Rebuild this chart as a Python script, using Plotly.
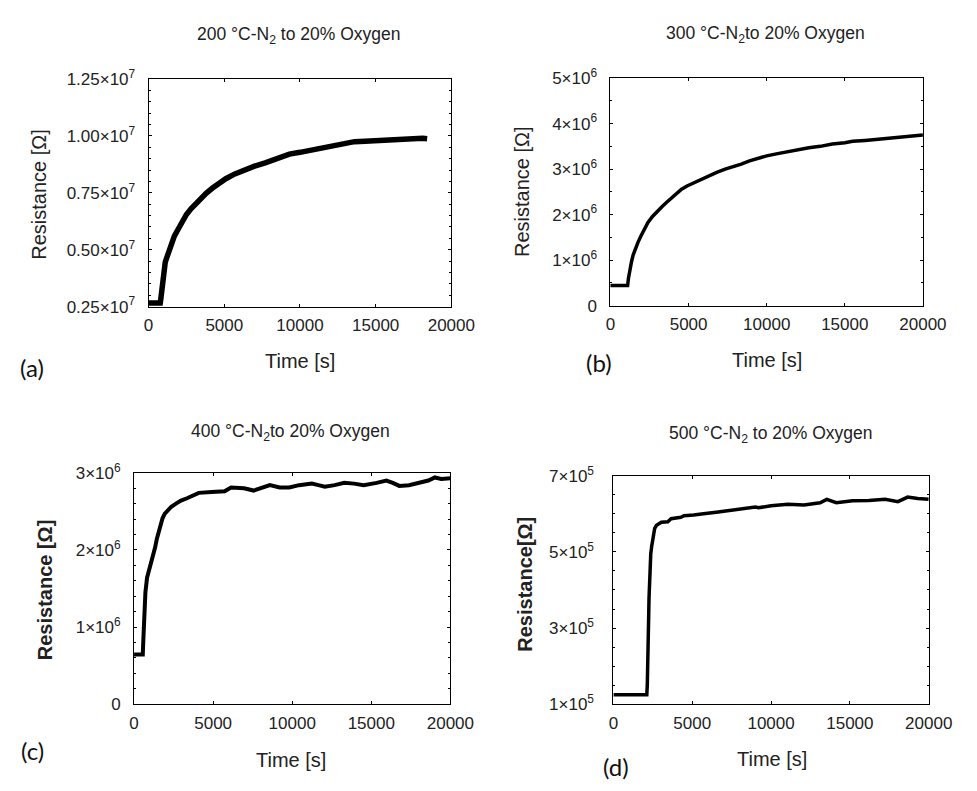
import plotly.graph_objects as go

W, H = 977, 791

# ---- data ----
time_a = [0, 770, 800, 850, 900, 950, 1000, 1100, 1200, 1350, 1500, 1700, 1950, 2200, 2500,
          2800, 3100, 3450, 3800, 4200, 4600, 5100, 5700, 6300, 7000, 7700, 8400, 9300, 10000,
          10700, 11500, 12300, 13000, 13600, 14300, 15000, 15700, 16400, 17100, 17700, 18100,
          18400]
res_a = [0.266e7, 0.266e7, 0.28e7, 0.31e7, 0.345e7, 0.385e7, 0.415e7, 0.445e7, 0.465e7,
         0.50e7, 0.53e7, 0.56e7, 0.59e7, 0.625e7, 0.655e7, 0.68e7, 0.703e7, 0.725e7, 0.748e7,
         0.77e7, 0.79e7, 0.812e7, 0.833e7, 0.85e7, 0.867e7, 0.882e7, 0.897e7, 0.92e7, 0.928e7,
         0.938e7, 0.948e7, 0.958e7, 0.966e7, 0.975e7, 0.977e7, 0.98e7, 0.984e7, 0.988e7,
         0.991e7, 0.993e7, 0.99e7, 0.988e7]

time_b = [-150, 1097, 1150, 1200, 1240, 1350, 1450, 1600, 1760, 1950, 2170, 2400, 2690, 3000,
          3310, 3600, 3930, 4250, 4550, 4900, 5270, 5750, 6300, 6800, 7340, 7850, 8370, 8900,
          9400, 10000, 10700, 11370, 12000, 12700, 13430, 14200, 15000, 15500, 16300, 17000,
          17570, 18300, 19000, 19500, 20000]
res_b = [0.443e6, 0.443e6, 0.60e6, 0.72e6, 0.82e6, 0.97e6, 1.11e6, 1.26e6, 1.39e6, 1.53e6,
         1.68e6, 1.83e6, 1.96e6, 2.08e6, 2.18e6, 2.27e6, 2.37e6, 2.47e6, 2.56e6, 2.63e6,
         2.69e6, 2.78e6, 2.86e6, 2.93e6, 3.0e6, 3.05e6, 3.11e6, 3.18e6, 3.23e6, 3.29e6,
         3.34e6, 3.39e6, 3.43e6, 3.47e6, 3.5e6, 3.55e6, 3.58e6, 3.61e6, 3.63e6, 3.65e6,
         3.67e6, 3.70e6, 3.72e6, 3.73e6, 3.75e6]

time_c = [0, 552, 590, 613, 660, 718, 822, 900, 1024, 1130, 1227, 1330, 1436, 1540, 1638, 1800,
          1945, 2150, 2356, 2650, 2969, 3350, 3785, 4090, 4908, 5726, 6135, 6544, 6953, 7566,
          8180, 8589, 9202, 9816, 10429, 11247, 11656, 12065, 12679, 13292, 13906, 14519,
          15337, 15951, 16360, 16769, 17382, 17996, 18609, 19018, 19427, 20000]
res_c = [0.644e6, 0.644e6, 0.85e6, 1.05e6, 1.2e6, 1.45e6, 1.64e6, 1.70e6, 1.77e6, 1.84e6,
         1.93e6, 2.03e6, 2.14e6, 2.23e6, 2.31e6, 2.41e6, 2.47e6, 2.52e6, 2.56e6, 2.60e6,
         2.64e6, 2.67e6, 2.71e6, 2.74e6, 2.75e6, 2.76e6, 2.81e6, 2.81e6, 2.80e6, 2.77e6,
         2.81e6, 2.84e6, 2.81e6, 2.81e6, 2.84e6, 2.86e6, 2.84e6, 2.82e6, 2.84e6, 2.87e6,
         2.86e6, 2.84e6, 2.87e6, 2.90e6, 2.87e6, 2.83e6, 2.84e6, 2.87e6, 2.90e6, 2.94e6,
         2.92e6, 2.93e6]

time_d = [0, 2119, 2150, 2180, 2200, 2217, 2240, 2260, 2290, 2322, 2370, 2427, 2525, 2620, 2735,
          2880, 3043, 3450, 3659, 4280, 4478, 5094, 5510, 5710, 6530, 7150, 7355, 8174, 9000,
          9200, 10000, 11060, 12090, 13110, 13530, 14140, 15170, 16200, 17230, 18050, 18660,
          19300, 20000]
res_d = [1.245e5, 1.245e5, 1.5e5, 1.91e5, 2.4e5, 2.93e5, 3.35e5, 3.78e5, 4.2e5, 4.63e5,
         4.95e5, 5.14e5, 5.48e5, 5.62e5, 5.70e5, 5.75e5, 5.78e5, 5.79e5, 5.87e5, 5.91e5,
         5.95e5, 5.97e5, 6.0e5, 6.0e5, 6.04e5, 6.08e5, 6.08e5, 6.15e5, 6.18e5, 6.16e5,
         6.21e5, 6.25e5, 6.23e5, 6.29e5, 6.38e5, 6.29e5, 6.34e5, 6.35e5, 6.38e5, 6.32e5,
         6.44e5, 6.40e5, 6.38e5]

x_ticks = [0, 5000, 10000, 15000, 20000]
x_ticktext = ["0", "5000", "10000", "15000", "20000"]

y_ticks_a = [0.25e7, 0.5e7, 0.75e7, 1.0e7, 1.25e7]
y_text_a = ["0.25×10<sup>7</sup>", "0.50×10<sup>7</sup>", "0.75×10<sup>7</sup>",
            "1.00×10<sup>7</sup>", "1.25×10<sup>7</sup>"]
y_ticks_b = [0, 1e6, 2e6, 3e6, 4e6, 5e6]
y_text_b = ["0", "1×10<sup>6</sup>", "2×10<sup>6</sup>", "3×10<sup>6</sup>",
            "4×10<sup>6</sup>", "5×10<sup>6</sup>"]
y_ticks_c = [0, 1e6, 2e6, 3e6]
y_text_c = ["0", "1×10<sup>6</sup>", "2×10<sup>6</sup>", "3×10<sup>6</sup>"]
y_ticks_d = [1e5, 3e5, 5e5, 7e5]
y_text_d = ["1×10<sup>5</sup>", "3×10<sup>5</sup>", "5×10<sup>5</sup>", "7×10<sup>5</sup>"]

titles = ["200 °C-N<sub>2</sub> to 20% Oxygen", "300 °C-N<sub>2</sub>to 20% Oxygen",
          "400 °C-N<sub>2</sub>to 20% Oxygen", "500 °C-N<sub>2</sub> to 20% Oxygen"]
panel_tags = ["(a)", "(b)", "(c)", "(d)"]


def fx(px):
    return px / W


def fy(py):
    return 1 - py / H


FONT = "Arial, Liberation Sans, sans-serif"

panels = [
    dict(t=time_a, r=res_a, box=(148, 69, 460, 303), yr=[0.25e7, 1.25e7], yt=y_ticks_a, ytt=y_text_a,
         lw=5.5, so=9, title_xy=(303, 24), xt_xy=(304, 359), yt_xy=(35, 187), bold=False,
         ylab="Resistance [Ω]", tag_xy=(28, 366)),
    dict(t=time_b, r=res_b, box=(624, 68, 946, 302), yr=[0, 5e6], yt=y_ticks_b, ytt=y_text_b,
         lw=3.5, so=9, title_xy=(784, 23), xt_xy=(785, 358), yt_xy=(533, 185), bold=False,
         ylab="Resistance [Ω]", tag_xy=(612, 361)),
    dict(t=time_c, r=res_c, box=(133, 474, 459, 712), yr=[0, 3e6], yt=y_ticks_c, ytt=y_text_c,
         lw=4, so=9, title_xy=(294, 433), xt_xy=(295, 769), yt_xy=(42, 594), bold=True,
         ylab="Resistance [Ω]", tag_xy=(28, 760)),
    dict(t=time_d, r=res_d, box=(627, 477, 952, 712), yr=[1e5, 7e5], yt=y_ticks_d, ytt=y_text_d,
         lw=3.5, so=15, title_xy=(789, 435), xt_xy=(790, 768), yt_xy=(535, 589), bold=True,
         ylab="Resistance[Ω]", tag_xy=(630, 776)),
]

fig = go.Figure()
annotations = []

for i, p in enumerate(panels, start=1):
    sfx = "" if i == 1 else str(i)
    left, top, right, bottom = p["box"]
    fig.add_trace(go.Scatter(x=p["t"], y=p["r"], mode="lines",
                             line=dict(color="black", width=p["lw"]),
                             xaxis="x" + sfx, yaxis="y" + sfx,
                             cliponaxis=True, showlegend=False))
    common = dict(showline=True, linecolor="black", linewidth=1, mirror="ticks",
                  ticks="inside", ticklen=3, tickcolor="black", showgrid=False,
                  zeroline=False, tickfont=dict(family=FONT, size=17, color="#222"))
    fig.layout["xaxis" + sfx] = dict(domain=[fx(left), fx(right)], range=[0, 20000],
                                     anchor="y" + sfx, tickvals=x_ticks, ticktext=x_ticktext,
                                     ticklabelstandoff=3, **common)
    fig.layout["yaxis" + sfx] = dict(domain=[fy(bottom), fy(top)], range=p["yr"],
                                     anchor="x" + sfx, tickvals=p["yt"], ticktext=p["ytt"],
                                     ticklabelstandoff=p["so"],
                                     minor=dict(ticks="inside", ticklen=2, tickcolor="black"),
                                     **common)

    tx, ty = p["title_xy"]
    annotations.append(dict(text=titles[i - 1], x=fx(tx), y=fy(ty), xref="paper", yref="paper",
                            showarrow=False, xanchor="center", yanchor="middle",
                            font=dict(family=FONT, size=17.5, color="#222")))
    ax_, ay_ = p["xt_xy"]
    annotations.append(dict(text="Time [s]", x=fx(ax_), y=fy(ay_), xref="paper", yref="paper",
                            showarrow=False, xanchor="center", yanchor="middle",
                            font=dict(family=FONT, size=20, color="#222")))
    lx, ly = p["yt_xy"]
    ylab = "<b>" + p["ylab"] + "</b>" if p["bold"] else p["ylab"]
    annotations.append(dict(text=ylab, x=fx(lx), y=fy(ly), xref="paper", yref="paper",
                            showarrow=False, xanchor="center", yanchor="middle", textangle=-90,
                            font=dict(family=FONT, size=20, color="#222")))
    gx, gy = p["tag_xy"]
    annotations.append(dict(text=panel_tags[i - 1], x=fx(gx), y=fy(gy), xref="paper", yref="paper",
                            showarrow=False, xanchor="center", yanchor="middle",
                            font=dict(family="Lato, Open Sans, sans-serif", size=24, color="#111")))

fig.update_layout(width=W, height=H, margin=dict(l=0, r=0, t=0, b=0),
                  paper_bgcolor="white", plot_bgcolor="white",
                  showlegend=False, annotations=annotations)

# keep the page exactly the size of the figure
page_fix = ("document.documentElement.style.margin='0';"
            "document.body.style.margin='0';"
            "document.body.style.overflow='hidden';"
            "document.documentElement.style.overflow='hidden';"
            "var gd=document.getElementById('{plot_id}');"
            "gd.style.overflow='hidden';")
fig.write_html("out.html", config={"staticPlot": True}, post_script=page_fix)
